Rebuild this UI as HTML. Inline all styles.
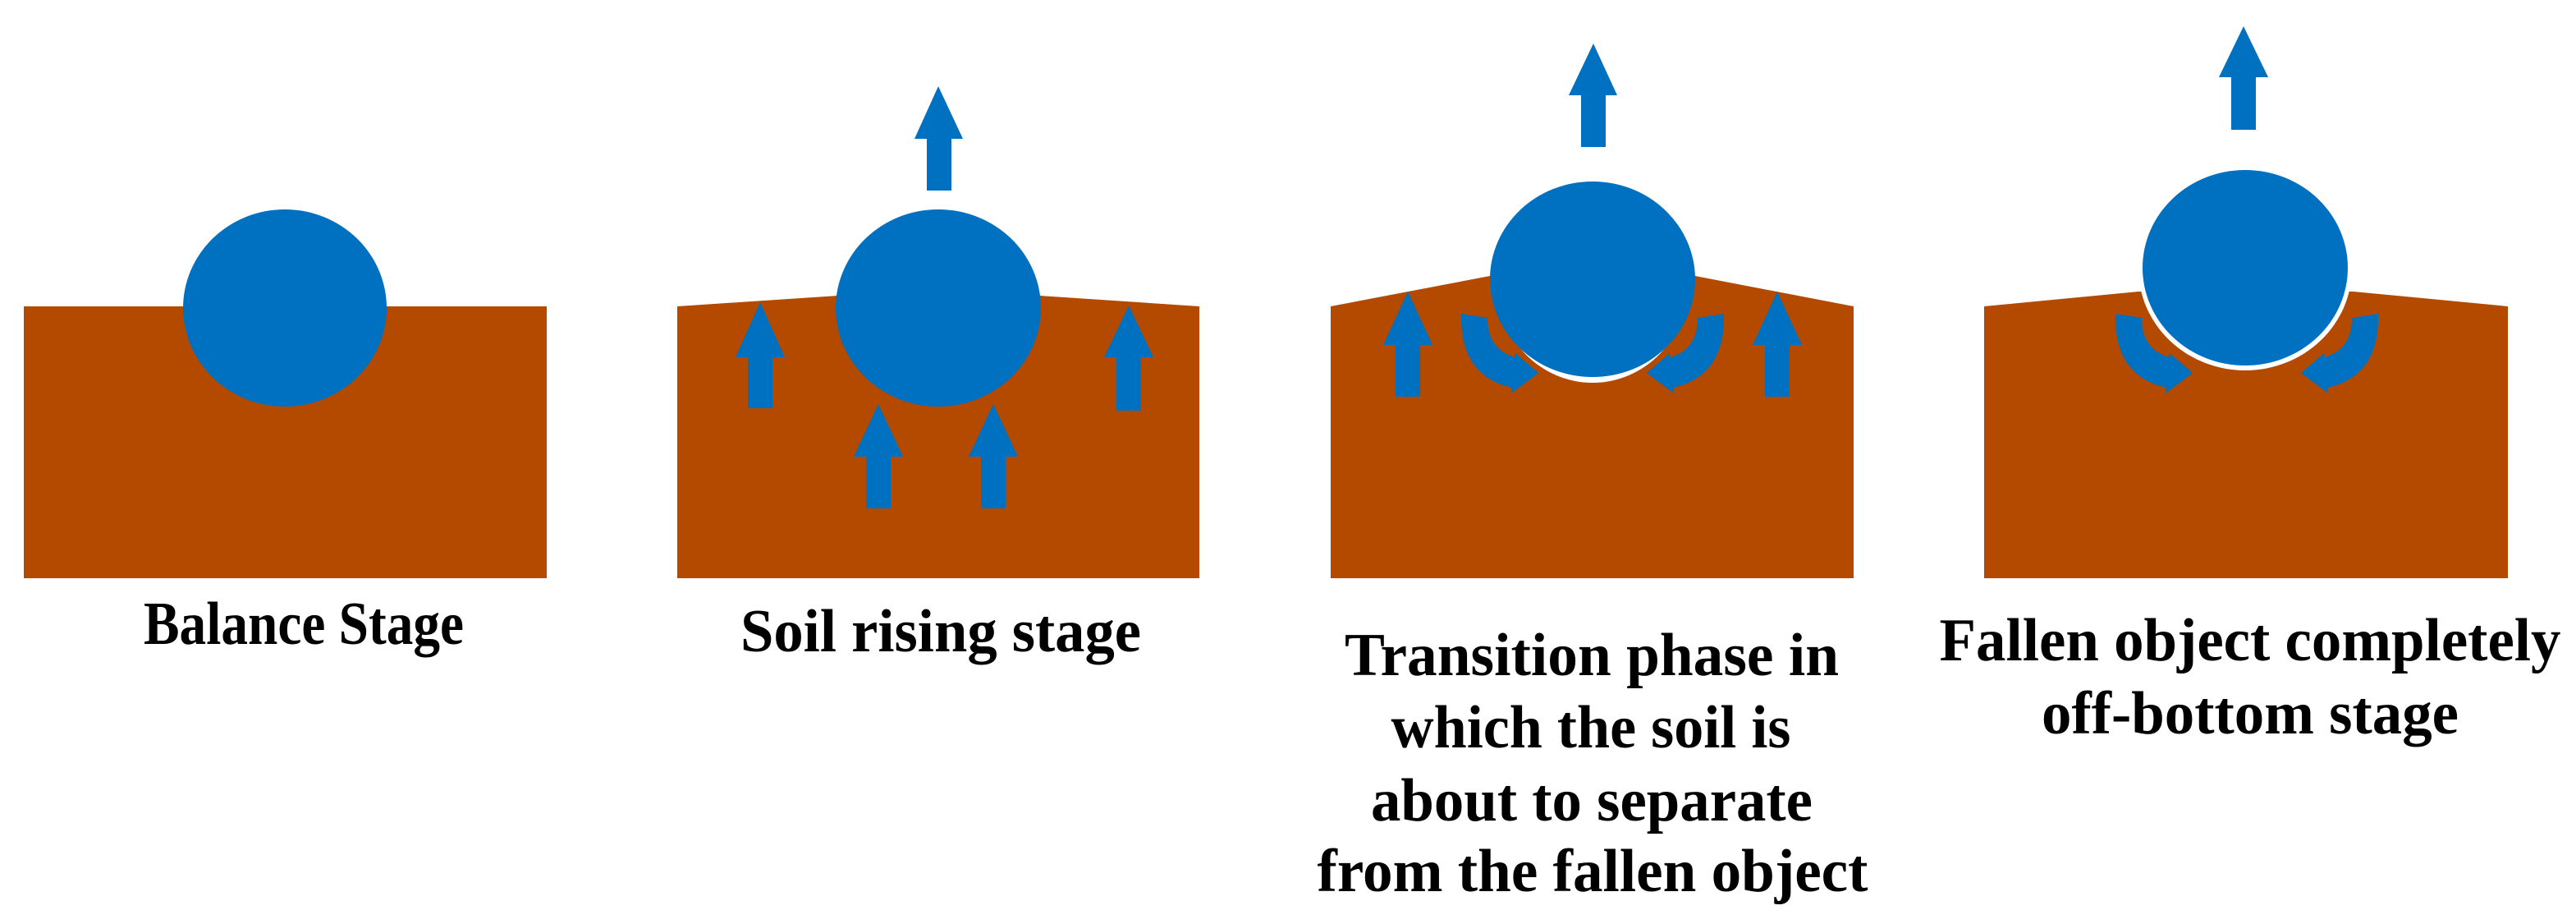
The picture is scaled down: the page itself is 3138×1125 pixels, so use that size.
<!DOCTYPE html>
<html><head><meta charset="utf-8"><style>html,body{margin:0;padding:0;background:#fff}svg{display:block}</style></head>
<body>
<svg width="3138" height="1125" viewBox="0 0 3138 1125" xmlns="http://www.w3.org/2000/svg">
<defs>
<g id="ca" fill="#0070c0">
<path d="M1780,382 Q1778,458 1842,472 L1850,436 Q1812,428 1812,387 Z"/>
<polygon points="1846,430 1874,454 1841,479"/>
</g>
</defs>

<!-- Panel 1 -->
<rect x="29" y="373" width="637" height="331" fill="#b34a00"/>
<ellipse cx="347" cy="375" rx="124" ry="120" fill="#0070c0"/>

<!-- Panel 2 -->
<polygon points="825,373 1020,360 1267,360 1461,373 1461,704 825,704" fill="#b34a00"/>
<ellipse cx="1143" cy="375" rx="125" ry="120" fill="#0070c0"/>
<polygon points="1143,105 1173,169 1159,169 1159,232 1129,232 1129,169 1114,169" fill="#0070c0"/>
<polygon points="926,368 956,435 941,435 941,497 911,497 911,435 896,435" fill="#0070c0"/>
<polygon points="1375,372 1405,435 1390,435 1390,500 1360,500 1360,435 1345,435" fill="#0070c0"/>
<polygon points="1070,492 1100,556 1085,556 1085,619 1055,619 1055,556 1040,556" fill="#0070c0"/>
<polygon points="1210,492 1240,556 1225,556 1225,619 1195,619 1195,556 1180,556" fill="#0070c0"/>

<!-- Panel 3 -->
<polygon points="1621,373 1815,336 2065,336 2258,373 2258,704 1621,704" fill="#b34a00"/>
<ellipse cx="1940" cy="346" rx="116" ry="120" fill="#fff"/>
<ellipse cx="1940" cy="340" rx="125" ry="119" fill="#0070c0"/>
<polygon points="1941,53 1970,116 1956,116 1956,179 1926,179 1926,116 1911,116" fill="#0070c0"/>
<polygon points="1715,355 1745,420 1730,420 1730,483 1700,483 1700,420 1685,420" fill="#0070c0"/>
<polygon points="2165,355 2195,420 2180,420 2180,483 2150,483 2150,420 2135,420" fill="#0070c0"/>
<use href="#ca"/>
<use href="#ca" transform="translate(3880,0) scale(-1,1)"/>

<!-- Panel 4 -->
<polygon points="2417,373 2605,355 2867,355 3055,373 3055,704 2417,704" fill="#b34a00"/>
<ellipse cx="2735" cy="327" rx="130" ry="124" fill="#fff"/>
<ellipse cx="2735" cy="326" rx="125" ry="119" fill="#0070c0"/>
<polygon points="2733,32 2763,94 2748,94 2748,158 2718,158 2718,94 2703,94" fill="#0070c0"/>
<use href="#ca" transform="translate(797,0)"/>
<use href="#ca" transform="translate(4677,0) scale(-1,1)"/>

<g font-family="'Liberation Serif',serif" font-weight="bold" font-size="74" fill="#000" text-anchor="middle">
<text x="370" y="784" textLength="390" lengthAdjust="spacingAndGlyphs">Balance Stage</text>
<text x="1146" y="793" textLength="488" lengthAdjust="spacingAndGlyphs">Soil rising stage</text>
<text x="1939" y="822" textLength="602" lengthAdjust="spacingAndGlyphs">Transition phase in</text>
<text x="1938" y="910" textLength="487" lengthAdjust="spacingAndGlyphs">which the soil is</text>
<text x="1939" y="999" textLength="538" lengthAdjust="spacingAndGlyphs">about to separate</text>
<text x="1940" y="1085" textLength="671" lengthAdjust="spacingAndGlyphs">from the fallen object</text>
<text x="2741" y="804" textLength="757" lengthAdjust="spacingAndGlyphs">Fallen object completely</text>
<text x="2741" y="893" textLength="508" lengthAdjust="spacingAndGlyphs">off-bottom stage</text>
</g>
</svg>
</body></html>
